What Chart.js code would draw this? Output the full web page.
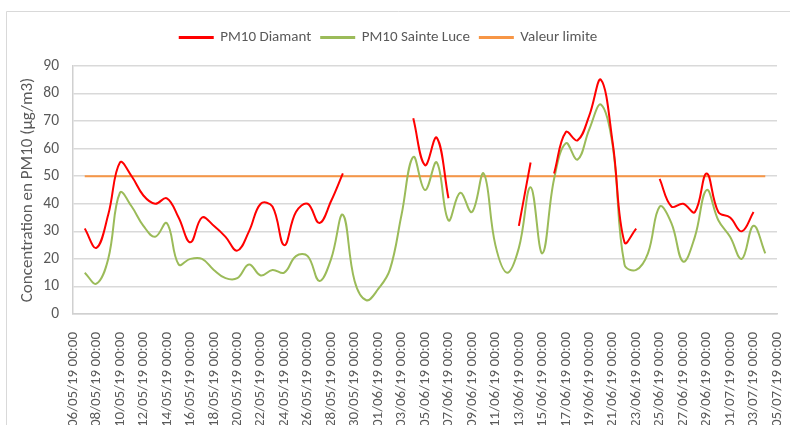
<!DOCTYPE html>
<html><head><meta charset="utf-8">
<script src="https://cdn.jsdelivr.net/npm/chart.js@4.4.1/dist/chart.umd.min.js"></script>
<style>html,body{margin:0;padding:0;background:#fff;overflow:hidden}</style>
</head><body>
<canvas id="c" width="790" height="425"></canvas>
<script>
const categories = [
"06/05/19 00:00","07/05/19 00:00","08/05/19 00:00","09/05/19 00:00","10/05/19 00:00","11/05/19 00:00",
"12/05/19 00:00","13/05/19 00:00","14/05/19 00:00","15/05/19 00:00","16/05/19 00:00","17/05/19 00:00",
"18/05/19 00:00","19/05/19 00:00","20/05/19 00:00","21/05/19 00:00","22/05/19 00:00","23/05/19 00:00",
"24/05/19 00:00","25/05/19 00:00","26/05/19 00:00","27/05/19 00:00","28/05/19 00:00","29/05/19 00:00",
"30/05/19 00:00","31/05/19 00:00","01/06/19 00:00","02/06/19 00:00","03/06/19 00:00","04/06/19 00:00",
"05/06/19 00:00","06/06/19 00:00","07/06/19 00:00","08/06/19 00:00","09/06/19 00:00","10/06/19 00:00",
"11/06/19 00:00","12/06/19 00:00","13/06/19 00:00","14/06/19 00:00","15/06/19 00:00","16/06/19 00:00",
"17/06/19 00:00","18/06/19 00:00","19/06/19 00:00","20/06/19 00:00","21/06/19 00:00","22/06/19 00:00",
"23/06/19 00:00","24/06/19 00:00","25/06/19 00:00","26/06/19 00:00","27/06/19 00:00","28/06/19 00:00",
"29/06/19 00:00","30/06/19 00:00","01/07/19 00:00","02/07/19 00:00","03/07/19 00:00","04/07/19 00:00",
"05/07/19 00:00"];

const pm10Diamant = [null,
 31,24,36,55,50,43,40,42,35,26,35,32,28,23,30,40,39,25,37,40,33,41,51,
 null,null,null,null,null,
 71,54,64,42,
 null,null,null,null,null,
 32,55,null,
 51,66,63,72,85,62,26,31,null,
 49,39,40,37,51,37,35,30,37,null,
 null];

const pm10SainteLuce = [null,
 15,11,20,44,39,32,28,33,18,20,20,16,13,13,18,14,16,15,21,21,12,20,36,
 12,5,9,16,36,57,45,55,34,44,37,51,25,15,24,46,22,49,62,56,67,76,61,18,16,
 22,39,33,19,28,45,34,28,20,32,22,
 null];

const valeurLimite = categories.map((c, i) => (i === 0 || i === categories.length - 1) ? null : 50);

const yTicks = [0,10,20,30,40,50,60,70,80,90];

const FONT = 'Carlito, Lato, "Open Sans", sans-serif';
Chart.defaults.font.family = FONT;
Chart.defaults.color = '#595959';

const framePlugin = {
  id: 'frame',
  beforeDraw(chart) {
    const ctx = chart.ctx;
    ctx.save();
    ctx.fillStyle = '#fff';
    ctx.fillRect(0, 0, chart.width, chart.height);
    ctx.strokeStyle = '#d9d9d9';
    ctx.lineWidth = 1;
    ctx.beginPath();
    ctx.moveTo(6.5, chart.height);
    ctx.lineTo(6.5, 11.5);
    ctx.lineTo(chart.width, 11.5);
    ctx.stroke();
    ctx.restore();
  }
};

const legendGap = {
  id: 'legendGap',
  beforeLayout(chart) {
    const lg = chart.legend;
    if (lg && !lg._gapPatched) {
      const f = lg.fit;
      lg.fit = function () { f.call(this); this.height += 11; };
      lg._gapPatched = true;
    }
  }
};

new Chart(document.getElementById('c'), {
  type: 'line',
  data: {
    labels: categories,
    datasets: [
      { label: 'PM10 Diamant', data: pm10Diamant, borderColor: '#ff0000', backgroundColor: '#ff0000',
        borderWidth: 2, pointRadius: 0, tension: 0.4, spanGaps: false },
      { label: 'PM10 Sainte Luce', data: pm10SainteLuce, borderColor: '#9bbb59', backgroundColor: '#9bbb59',
        borderWidth: 2, pointRadius: 0, tension: 0.4, spanGaps: false },
      { label: 'Valeur limite', data: valeurLimite, borderColor: '#f79646', backgroundColor: '#f79646',
        borderWidth: 2, pointRadius: 0, tension: 0, spanGaps: false }
    ]
  },
  options: {
    responsive: false,
    animation: false,
    events: [],
    layout: { padding: { top: 20, left: 0, right: 13, bottom: 0 } },
    plugins: {
      legend: {
        position: 'top',
        labels: { font: { size: 15 }, color: '#595959', boxWidth: 33, boxHeight: 1, padding: 10 }
      },
      tooltip: { enabled: false }
    },
    scales: {
      x: {
        grid: { display: false },
        border: { display: true, color: '#d0d0d0', width: 1.5 },
        ticks: {
          autoSkip: false, maxRotation: 90, minRotation: 90, padding: 10,
          font: { size: 15 }, color: '#595959',
          callback: (v, i) => (i % 2 === 0 ? categories[i] : '')
        },
        afterFit: s => { s.height = 111; s.paddingLeft = 0; s.paddingRight = 0; }
      },
      y: {
        min: 0, max: 90,
        afterBuildTicks: s => { s.ticks = yTicks.map(v => ({ value: v })); },
        grid: { color: '#d9d9d9', lineWidth: 1.5, drawTicks: false },
        border: { display: true, color: '#d0d0d0', width: 1.5 },
        ticks: { padding: 14, font: { size: 15.5 }, color: '#595959' },
        title: { display: true, text: 'Concentration en PM10 (µg/m3)', font: { size: 17 }, color: '#595959',
                 padding: { top: 18, bottom: 0 } },
        afterFit: s => { s.width = 73; }
      }
    }
  },
  plugins: [framePlugin, legendGap]
});
</script>
</body></html>
